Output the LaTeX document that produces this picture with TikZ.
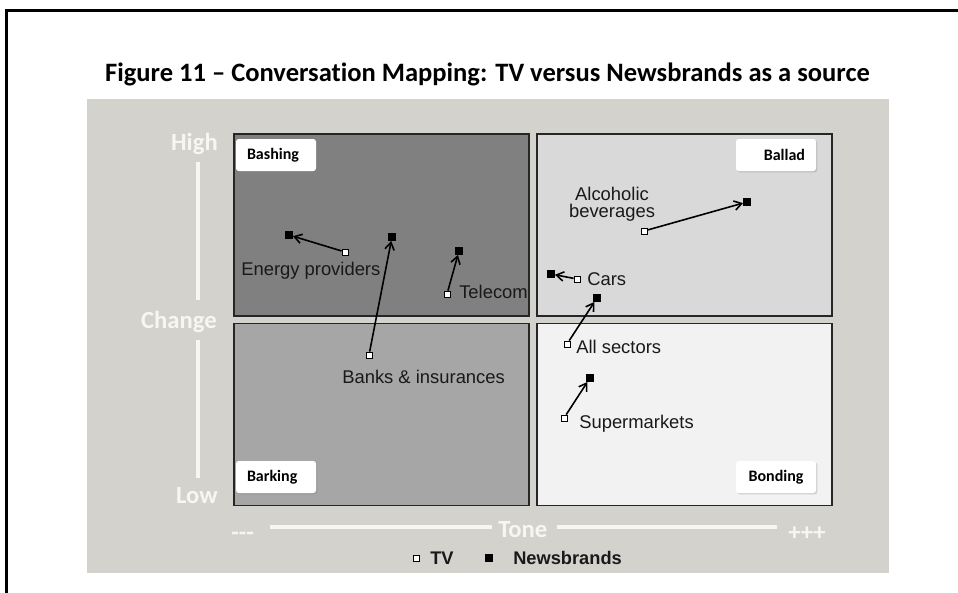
\documentclass[tikz,border=0pt]{standalone}
\usepackage{fontspec}
\setmainfont{Carlito}[Ligatures=NoCommon]
\newfontfamily\arial{Liberation Sans}
\usetikzlibrary{arrows.meta,shadows}

\definecolor{bggray}{RGB}{211,210,205}
\definecolor{axiswhite}{RGB}{246,246,243}

\begin{document}
\begin{tikzpicture}[x=0.75pt, y=-0.75pt,
    quad/.style={draw=black!85, line width=0.8pt, minimum width=221.25pt, minimum height=136.5pt, inner sep=0pt},
    tag/.style={fill=white, rounded corners=2pt, drop shadow={shadow xshift=1pt, shadow yshift=-1pt, opacity=0.3},
        text width=43.5pt, inner xsep=8.25pt, inner ysep=0pt, minimum height=24pt, font=\fontsize{12}{14}\selectfont\bfseries},
    axis/.style={text=axiswhite, font=\fontsize{18.5}{22}\selectfont\bfseries, inner sep=0pt},
    axisline/.style={draw=axiswhite, line width=3pt},
    tv/.style={draw, fill=white, line width=0.6pt, minimum size=4.5pt, inner sep=0pt},
    nb/.style={fill=black, minimum size=5.5pt, inner sep=0pt},
    move/.style={line width=1.2pt, -{Straight Barb[length=5.5pt, width=7pt]}},
    lbl/.style={font=\arial\fontsize{13.8}{12.4}\selectfont, text=black!90, inner sep=0pt}]
    \useasboundingbox (0,0) rectangle (958,593);

    % Frame
    \draw[line width=1.7pt] (6.5,593) -- (6.5,10.5) -- (958,10.5);
    \node[font=\fontsize{19.9}{24}\selectfont\bfseries, anchor=base, inner sep=0pt] (title) at (487.5,81)
        {Figure 11 – Conversation Mapping: TV versus Newsbrands as a source};

    % Background and quadrants
    \fill[bggray] (87,99) rectangle (889,573);
    \node[quad, fill=black!50] (bashingq) at (381.5,225) {};
    \node[quad, fill=black!15] (balladq) at (684.5,225) {};
    \node[quad, fill=black!35] (barkingq) at (381.5,414.5) {};
    \node[quad, fill=black!5] (bondingq) at (684.5,414.5) {};

    \node[tag, align=left] (bashing) at (276,155) {Bashing};
    \node[tag, align=right] (ballad) at (776,155) {Ballad};
    \node[tag, align=left] (barking) at (276,477) {Barking};
    \node[tag, align=center] (bonding) at (776,477) {Bonding};

    % Axes
    \node[axis, anchor=base east] (high) at (218,150) {High};
    \node[axis, anchor=base east] (change) at (217,328) {Change};
    \node[axis, anchor=base east] (low) at (218,503) {Low};
    \draw[axisline] (198,162) -- (198,300);
    \draw[axisline] (198,340) -- (198,478);
    \node[axis, anchor=base west] (minus) at (231,540) {-{}-{}-};
    \node[axis, anchor=base west] (tone) at (498,537) {Tone};
    \node[axis, anchor=base west] (plus) at (788,540) {+++};
    \draw[axisline] (270,527) -- (492,527);
    \draw[axisline] (557,527) -- (777,527);

    % Sectors: TV to Newsbrands
    \node[tv] (tv1) at (345,252) {};
    \node[nb] (nb1) at (289,235) {};
    \draw[move] (tv1) -- (nb1);
    \node[lbl, anchor=base west] (energy) at (241,275) {Energy providers};

    \node[tv] (tv2) at (369,355) {};
    \node[nb] (nb2) at (392,237) {};
    \draw[move] (tv2) -- (nb2);
    \node[lbl, anchor=base west] (banks) at (342,383) {Banks \& insurances};

    \node[tv] (tv3) at (447,294) {};
    \node[nb] (nb3) at (459,251) {};
    \draw[move] (tv3) -- (nb3);
    \node[lbl, anchor=base west] (telecom) at (459,298) {Telecom};

    \node[tv] (tv4) at (644,231) {};
    \node[nb] (nb4) at (747,202) {};
    \draw[move] (tv4) -- (nb4);
    \node[lbl, align=center, anchor=base] (alcohol) at (612,217) {Alcoholic\\beverages};

    \node[tv] (tv5) at (577,279) {};
    \node[nb] (nb5) at (551,274) {};
    \draw[move] (tv5) -- (nb5);
    \node[lbl, anchor=base west] (cars) at (587,285) {Cars};

    \node[tv] (tv6) at (567,344) {};
    \node[nb] (nb6) at (597,298) {};
    \draw[move] (tv6) -- (nb6);
    \node[lbl, anchor=base west] (allsectors) at (576,353) {All sectors};

    \node[tv] (tv7) at (564,418) {};
    \node[nb] (nb7) at (590,378) {};
    \draw[move] (tv7) -- (nb7);
    \node[lbl, anchor=base west] (supermarkets) at (579,428) {Supermarkets};

    % Legend
    \node[tv] (legtv) at (416,558) {};
    \node[lbl, font=\arial\fontsize{13.7}{16}\selectfont\bfseries, anchor=base west] (legtvtext) at (430,564) {TV};
    \node[nb] (legnb) at (489,558) {};
    \node[lbl, font=\arial\fontsize{13.7}{16}\selectfont\bfseries, anchor=base west] (legnbtext) at (513,564) {Newsbrands};
\end{tikzpicture}
\end{document}
